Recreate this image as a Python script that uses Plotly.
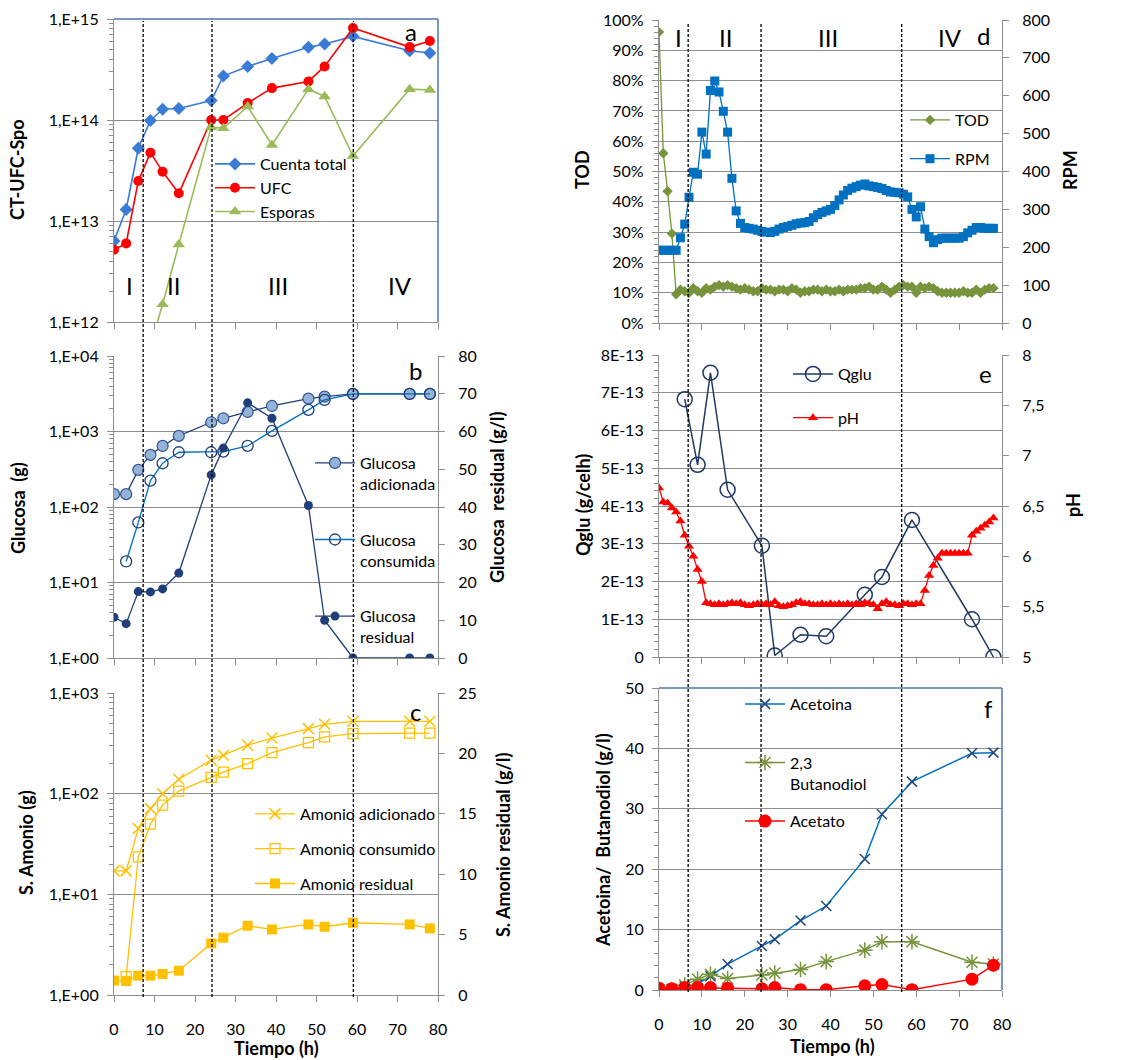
import plotly.graph_objects as go

# ---------------- DATA ----------------
t = [0, 3, 6, 9, 12, 16, 24, 27, 33, 39, 48, 52, 59, 73, 78]

# panel a
cuenta_total = [6.35e12, 1.3e13, 5.25e13, 9.9e13, 1.28e14, 1.3e14, 1.56e14, 2.72e14, 3.39e14, 4.07e14, 5.24e14, 5.65e14, 6.73e14, 4.85e14, 4.6e14]
ufc = [5.2e12, 6.0e12, 2.49e13, 4.75e13, 3.08e13, 1.88e13, 1.0e14, 1.0e14, 1.47e14, 2.07e14, 2.41e14, 3.39e14, 8.14e14, 5.27e14, 6.05e14]
t_esporas = [9, 12, 16, 24, 27, 33, 39, 48, 52, 59, 73, 78]
esporas = [5.8e11, 1.5e12, 5.85e12, 8.48e13, 8.28e13, 1.36e14, 5.66e13, 2.02e14, 1.71e14, 4.4e13, 2.02e14, 1.98e14]

# panel b
glu_adic = [148, 148, 310, 490, 644, 875, 1325, 1496, 1815, 2180, 2723, 2897, 3141, 3141, 3141]
t_cons = [3, 6, 9, 12, 16, 24, 27, 33, 39, 48, 52, 59, 73, 78]
glu_cons = [19.0, 62.4, 224, 380, 531, 531, 542, 644, 1018, 1931, 2618, 3141, 3141, 3141]
glu_resid = [10.8, 9.1, 17.6, 17.5, 18.3, 22.5, 48.5, 55.6, 67.6, 63.5, 40.4, 10.0, 0, 0, 0]

# panel c
am_adic = [17.1, 17.1, 45, 71, 100, 139, 215, 241, 303, 357, 443, 489, 523, 523, 523]
am_cons = [1.52, 23.6, 49.8, 76.8, 106, 145, 164, 199, 256, 321, 366, 395, 399, 399]
am_resid = [1.19, 1.16, 1.6, 1.6, 1.74, 2.01, 4.27, 4.74, 5.73, 5.43, 5.84, 5.65, 5.98, 5.84, 5.51]

# panel d / e (hourly on-line data)
t_h = [0, 1, 2, 3, 4, 5, 6, 7, 8, 9, 10, 11, 12, 13, 14, 15, 16, 17, 18, 19,
       20, 21, 22, 23, 24, 25, 26, 27, 28, 29, 30, 31, 32, 33, 34, 35, 36, 37, 38, 39,
       40, 41, 42, 43, 44, 45, 46, 47, 48, 49, 50, 51, 52, 53, 54, 55, 56, 57, 58, 59,
       60, 61, 62, 63, 64, 65, 66, 67, 68, 69, 70, 71, 72, 73, 74, 75, 76, 77, 78]
tod = [0.96, 0.56, 0.435, 0.295, 0.095, 0.11, 0.105, 0.10, 0.115, 0.105, 0.10, 0.115, 0.11, 0.12, 0.125, 0.12, 0.125, 0.12, 0.115, 0.11,
       0.115, 0.11, 0.105, 0.105, 0.115, 0.11, 0.11, 0.105, 0.11, 0.11, 0.105, 0.115, 0.11, 0.10, 0.105, 0.105, 0.11, 0.11, 0.105, 0.11,
       0.105, 0.105, 0.11, 0.105, 0.11, 0.11, 0.11, 0.115, 0.115, 0.12, 0.11, 0.11, 0.12, 0.11, 0.10, 0.11, 0.12, 0.125, 0.12, 0.12,
       0.10, 0.12, 0.115, 0.12, 0.115, 0.105, 0.10, 0.10, 0.10, 0.10, 0.10, 0.105, 0.10, 0.10, 0.11, 0.10, 0.11, 0.115, 0.115]
rpm = [192, 192, 192, 192, 192, 225, 261, 332, 398, 393, 504, 446, 614, 639, 610, 559, 504, 382, 296, 263,
       252, 250, 248, 245, 242, 240, 239, 242, 248, 252, 255, 258, 262, 264, 265, 268, 278, 286, 292, 296,
       300, 310, 325, 338, 350, 356, 360, 364, 367, 362, 360, 358, 355, 350, 346, 345, 344, 340, 333, 300,
       280, 307, 248, 228, 212, 220, 224, 224, 224, 224, 224, 228, 238, 245, 252, 252, 250, 250, 250]
ph = [6.68, 6.54, 6.53, 6.48, 6.44, 6.35, 6.21, 6.10, 6.00, 5.87, 5.75, 5.54, 5.53, 5.52, 5.53, 5.52, 5.53, 5.54, 5.53, 5.54,
      5.52, 5.51, 5.52, 5.53, 5.52, 5.53, 5.52, 5.55, 5.51, 5.50, 5.51, 5.52, 5.54, 5.55, 5.53, 5.53, 5.52, 5.52, 5.53, 5.52,
      5.53, 5.52, 5.53, 5.52, 5.53, 5.52, 5.53, 5.52, 5.54, 5.53, 5.52, 5.48, 5.53, 5.55, 5.52, 5.52, 5.51, 5.53, 5.53, 5.52,
      5.53, 5.53, 5.66, 5.81, 5.91, 5.98, 6.03, 6.03, 6.03, 6.03, 6.03, 6.03, 6.03, 6.21, 6.25, 6.28, 6.31, 6.34, 6.38]

t_q = [6, 9, 12, 16, 24, 27, 33, 39, 48, 52, 59, 73, 78]
qglu = [6.83e-13, 5.09e-13, 7.53e-13, 4.43e-13, 2.95e-13, 0.04e-13, 0.59e-13, 0.55e-13, 1.65e-13, 2.12e-13, 3.63e-13, 1.0e-13, 0.0]

# panel f
acetoina = [0.1, 0.2, 0.5, 1.0, 2.3, 4.3, 7.3, 8.4, 11.5, 13.9, 21.7, 29.1, 34.5, 39.2, 39.3]
butanodiol = [0.0, 0.0, 0.8, 1.8, 2.6, 1.9, 2.5, 2.8, 3.4, 4.7, 6.6, 8.0, 8.0, 4.6, 4.3]
acetato = [0.3, 0.2, 0.4, 0.4, 0.4, 0.3, 0.2, 0.4, 0.05, 0.05, 0.7, 0.9, 0.05, 1.8, 4.1]

phase_left = [7.2, 24.2, 59.1]
phase_right = [6.8, 23.8, 56.6]

log_a_ticks = [1e12, 1e13, 1e14, 1e15]
log_a_text = ["1,E+12", "1,E+13", "1,E+14", "1,E+15"]
log_b_ticks = [1, 10, 100, 1000, 10000]
log_b_text = ["1,E+00", "1,E+01", "1,E+02", "1,E+03", "1,E+04"]
log_c_ticks = [1, 10, 100, 1000]
log_c_text = ["1,E+00", "1,E+01", "1,E+02", "1,E+03"]
q_ticks = [0, 1e-13, 2e-13, 3e-13, 4e-13, 5e-13, 6e-13, 7e-13, 8e-13]
q_text = ["0", "1E-13", "2E-13", "3E-13", "4E-13", "5E-13", "6E-13", "7E-13", "8E-13"]
ph_ticks = [5, 5.5, 6, 6.5, 7, 7.5, 8]
ph_text = ["5", "5,5", "6", "6,5", "7", "7,5", "8"]
x_ticks = [0, 10, 20, 30, 40, 50, 60, 70, 80]

# ---------------- STYLE ----------------
W, H = 1125, 1060
FONT = "Lato, 'Open Sans', sans-serif"
GRAY = "#8E8E8E"
BORDER = "#4F74B0"
BLUE = "#3A7BD5"
BLUE2 = "#0070C0"
NAVY = "#1F3864"
NAVY2 = "#203F7A"
RED = "#FF0000"
GREEN = "#9BBB59"
OLIVE = "#77933C"
ORANGE = "#FFC000"
TITLE_SIZE = 18
LEG_SIZE = 16


def px(x):
    return x / W


def py(y):
    return 1 - y / H


XL = [px(114), px(438)]
XR = [px(659), px(1002)]
DA = [py(322), py(19)]
DB = [py(658), py(356)]
DC = [py(995), py(693)]
DD = [py(323), py(20)]
DE = [py(657), py(355)]
DF = [py(990), py(688)]

fig = go.Figure()


def sc(x, y, xa, ya, name, legend, group, line, marker, mode="lines+markers"):
    fig.add_trace(go.Scatter(x=x, y=y, xaxis=xa, yaxis=ya, name=name, mode=mode,
                             legend=legend, legendgroup=group, line=line, marker=marker,
                             cliponaxis=True))


# panel a
sc(t, cuenta_total, "x", "y", "Cuenta total", "legend", "a1",
   dict(color=BLUE, width=1.6), dict(symbol="diamond", size=10, color=BLUE))
sc(t, ufc, "x", "y", "UFC", "legend", "a2",
   dict(color=RED, width=1.6), dict(symbol="circle", size=10, color=RED))
sc(t_esporas, esporas, "x", "y", "Esporas", "legend", "a3",
   dict(color=GREEN, width=1.6), dict(symbol="triangle-up", size=11, color=GREEN))

# panel b
sc(t, glu_adic, "x2", "y2", "Glucosa<br>adicionada", "legend2", "b1",
   dict(color=NAVY2, width=1.3), dict(symbol="circle", size=11, color="#95B3D7", line=dict(color="#2F5597", width=1.2)))
sc(t_cons, glu_cons, "x2", "y2", "Glucosa<br>consumida", "legend2", "b2",
   dict(color=BLUE2, width=1.3), dict(symbol="circle-open", size=11, color=NAVY2, line=dict(width=1.3)))
sc(t, glu_resid, "x2", "y3", "Glucosa<br>residual", "legend2", "b3",
   dict(color=NAVY2, width=1.3), dict(symbol="circle", size=9, color=NAVY2))

# panel c
sc(t, am_adic, "x3", "y4", "Amonio adicionado", "legend3", "c1",
   dict(color=ORANGE, width=1.3), dict(symbol="x-thin-open", size=11, color=ORANGE, line=dict(width=1.5, color=ORANGE)))
sc(t[1:], am_cons, "x3", "y4", "Amonio consumido", "legend3", "c2",
   dict(color=ORANGE, width=1.3), dict(symbol="square-open", size=10, color=ORANGE, line=dict(width=1.3)))
sc(t, am_resid, "x3", "y5", "Amonio residual", "legend3", "c3",
   dict(color=ORANGE, width=1.3), dict(symbol="square", size=10, color=ORANGE))

# panel d
sc(t_h, tod, "x4", "y6", "TOD", "legend4", "d1",
   dict(color=OLIVE, width=1.3), dict(symbol="diamond", size=8, color=OLIVE))
sc(t_h, rpm, "x4", "y7", "RPM", "legend4", "d2",
   dict(color=BLUE2, width=1.3), dict(symbol="square", size=9, color=BLUE2))

# panel e
sc(t_q, qglu, "x5", "y8", "Qglu", "legend5", "e1",
   dict(color=NAVY, width=1.5), dict(symbol="circle-open", size=15, color=NAVY, line=dict(width=1.5)))
sc(t_h, ph, "x5", "y9", "pH", "legend5", "e2",
   dict(color=RED, width=1.3), dict(symbol="triangle-up", size=9, color=RED))

# panel f
sc(t, acetoina, "x6", "y10", "Acetoina<br>\u00a0", "legend6", "f1",
   dict(color=BLUE2, width=1.5), dict(symbol="x-thin-open", size=10, color="#1F497D", line=dict(width=1.5, color="#1F497D")))
sc(t, butanodiol, "x6", "y10", "2,3<br>Butanodiol", "legend6", "f2",
   dict(color=OLIVE, width=1.5), dict(symbol="asterisk-open", size=13, color=OLIVE, line=dict(width=1.5, color=OLIVE)))
sc(t, acetato, "x6", "y10", "Acetato<br>\u00a0", "legend6", "f3",
   dict(color=RED, width=1.5), dict(symbol="circle", size=13, color=RED))

tickfont = dict(family=FONT, size=16, color="#000000")


def xax(domain, anchor, labels=False):
    return dict(domain=domain, anchor=anchor, range=[0, 80], tickmode="array", tickvals=x_ticks,
                showticklabels=labels, ticks="outside", ticklen=6, tickcolor=GRAY, tickwidth=1,
                showline=True, linecolor=GRAY, linewidth=1.2, showgrid=False, zeroline=False,
                tickfont=tickfont, ticklabelstandoff=14, automargin=False, fixedrange=True)


def ylog(domain, anchor, rng, tv, tt):
    minor_vals = [m * 10 ** k for k in range(int(rng[0]) - 1, int(rng[1]) + 1) for m in range(2, 10)]
    return dict(domain=domain, anchor=anchor, type="log", range=rng, tickmode="array", tickvals=tv,
                ticktext=tt, ticks="outside", ticklen=6, tickcolor=GRAY, showline=True, linecolor=GRAY,
                linewidth=1.2, showgrid=True, gridcolor=GRAY, gridwidth=1.2, zeroline=False,
                tickfont=tickfont, ticklabelstandoff=5, automargin=False,
                minor=dict(tickmode="array", tickvals=minor_vals, ticks="outside", ticklen=4,
                           tickcolor=GRAY, showgrid=False))


def ylin(domain, anchor, rng, dtick, minor=None, tv=None, tt=None, fmt=None, grid=True):
    d = dict(domain=domain, anchor=anchor, range=rng, ticks="outside", ticklen=6, tickcolor=GRAY,
             showline=True, linecolor=GRAY, linewidth=1.2, showgrid=grid, gridcolor=GRAY, gridwidth=1.2,
             zeroline=False, tickfont=tickfont, ticklabelstandoff=5, automargin=False)
    if tv is not None:
        d.update(tickmode="array", tickvals=tv, ticktext=tt)
    else:
        d.update(dtick=dtick, tick0=rng[0])
    if fmt:
        d.update(tickformat=fmt)
    if minor:
        d.update(minor=dict(dtick=minor, ticks="outside", ticklen=4, tickcolor=GRAY, showgrid=False))
    return d


def yright(over, anchor, rng, dtick, tv=None, tt=None):
    d = dict(overlaying=over, anchor=anchor, side="right", range=rng, ticks="outside", ticklen=6,
             tickcolor=GRAY, showline=True, linecolor=GRAY, linewidth=1.2, showgrid=False,
             zeroline=False, tickfont=tickfont, ticklabelstandoff=10, automargin=False)
    if tv is not None:
        d.update(tickmode="array", tickvals=tv, ticktext=tt)
    else:
        d.update(dtick=dtick, tick0=rng[0])
    return d


layout = dict(
    width=W, height=H, margin=dict(l=0, r=0, t=0, b=0), template="none",
    paper_bgcolor="white", plot_bgcolor="rgba(0,0,0,0)",
    font=dict(family=FONT, size=15, color="#000000"),
    xaxis=xax(XL, "y"), xaxis2=xax(XL, "y2"), xaxis3=xax(XL, "y4", True),
    xaxis4=xax(XR, "y6"), xaxis5=xax(XR, "y8"), xaxis6=xax(XR, "y10", True),
    yaxis=ylog(DA, "x", [12, 15], log_a_ticks, log_a_text),
    yaxis2=ylog(DB, "x2", [0, 4], log_b_ticks, log_b_text),
    yaxis3=yright("y2", "x2", [0, 80], 10),
    yaxis4=ylog(DC, "x3", [0, 3], log_c_ticks, log_c_text),
    yaxis5=yright("y4", "x3", [0, 25], 5),
    yaxis6=ylin(DD, "x4", [0, 1], 0.1, minor=0.02, fmt=".0%"),
    yaxis7=yright("y6", "x4", [0, 800], 100),
    yaxis8=ylin(DE, "x5", [0, 8e-13], None, minor=0.2e-13, tv=q_ticks, tt=q_text),
    yaxis9=yright("y8", "x5", [5, 8], None, tv=ph_ticks, tt=ph_text),
    yaxis10=ylin(DF, "x6", [0, 50], 10, minor=2),
    showlegend=True,
)


def leg(x, y, gap, valign="middle"):
    return dict(x=px(x), y=py(y), xanchor="left", yanchor="top", bgcolor="rgba(0,0,0,0)",
                borderwidth=0, font=dict(family=FONT, size=LEG_SIZE, color="#000000"), itemwidth=40,
                tracegroupgap=gap, valign=valign, itemclick=False, itemdoubleclick=False)


layout["legend"] = leg(210, 147, 0)
layout["legend2"] = leg(310, 446, 32, "top")
layout["legend3"] = leg(250, 797, 11)
layout["legend4"] = leg(905, 103, 15)
layout["legend5"] = leg(788, 357, 20)
layout["legend6"] = leg(740, 687, 14, "top")

fig.update_layout(**layout)

# phase separators
shapes = []
for xv in phase_left:
    shapes.append(dict(type="line", xref="x3", yref="paper", x0=xv, x1=xv, y0=py(997), y1=py(21),
                       line=dict(color="#000000", width=1.3, dash="3px,2px"), layer="above"))
for xv in phase_right:
    shapes.append(dict(type="line", xref="x6", yref="paper", x0=xv, x1=xv, y0=py(992), y1=py(22),
                       line=dict(color="#000000", width=1.3, dash="3px,2px"), layer="above"))
# blue plot-area borders of panels a and f
for xr, yr in [("x domain", "y domain"), ("x6 domain", "y10 domain")]:
    shapes.append(dict(type="line", xref=xr, yref=yr, x0=0, x1=1, y0=1, y1=1,
                       line=dict(color=BORDER, width=1.5), layer="above"))
    shapes.append(dict(type="line", xref=xr, yref=yr, x0=1, x1=1, y0=0, y1=1,
                       line=dict(color=BORDER, width=1.5), layer="above"))
fig.update_layout(shapes=shapes)

ann = []


def text(x, y, s, size=22, bold=False, angle=0):
    ann.append(dict(xref="paper", yref="paper", x=px(x), y=py(y), text=("<b>%s</b>" % s) if bold else s,
                    showarrow=False, xanchor="center", yanchor="middle", textangle=angle,
                    font=dict(family=FONT, size=size, color="#000000")))


for s, x in [("I", 129), ("II", 173), ("III", 278), ("IV", 400)]:
    text(x, 285, s, 24)
for s, x in [("I", 678), ("II", 725), ("III", 828), ("IV", 950)]:
    text(x, 38, s, 24)
text(411, 32, "a", 24)
text(415, 370, "b", 24)
text(415, 711, "c", 24)
text(983, 36, "d", 24)
text(985, 373, "e", 24)
text(988, 708, "f", 24)

text(17, 170, "CT-UFC-Spo", TITLE_SIZE, True, -90)
text(18, 508, "Glucosa\u00a0 (g)", TITLE_SIZE, True, -90)
text(497, 497, "Glucosa\u00a0 residual (g/l)", TITLE_SIZE, True, -90)
text(26, 843, "S. Amonio (g)", TITLE_SIZE, True, -90)
text(503, 845, "S. Amonio residual (g/l)", TITLE_SIZE, True, -90)
text(276, 1048, "Tiempo (h)", TITLE_SIZE, True)
text(582, 170, "TOD", TITLE_SIZE, True, -90)
text(1070, 170, "RPM", TITLE_SIZE, True, -90)
text(583, 505, "Qglu (g/celh)", TITLE_SIZE, True, -90)
text(1073, 505, "pH", TITLE_SIZE, True, -90)
text(603, 840, "Acetoina/\u00a0 Butanodiol (g/l)", TITLE_SIZE, True, -90)
text(832, 1046, "Tiempo (h)", TITLE_SIZE, True)

fig.update_layout(annotations=ann)

fig.write_html("out.html")
